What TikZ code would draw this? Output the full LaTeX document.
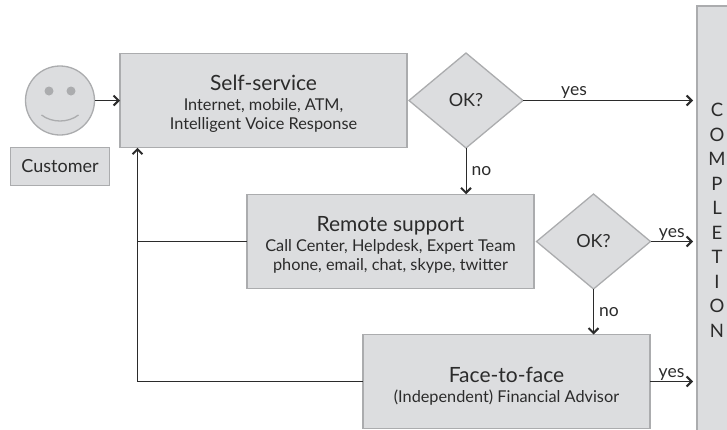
\documentclass[tikz,border=0pt]{standalone}
\usepackage{fontspec}
\setmainfont{Lato}
\usetikzlibrary{shapes.geometric,arrows.meta}
\definecolor{boxfill}{HTML}{DCDDDF}
\definecolor{boxline}{HTML}{ABACAE}
\definecolor{inkline}{HTML}{2B2B2B}
\newcommand{\headfont}{\fontsize{21}{24}\selectfont}
\newcommand{\subfont}{\fontsize{16.3}{19}\selectfont}
\newcommand{\headline}[2]{{\headfont\rule{0pt}{#1}#2}}
\tikzset{
    box/.style={shape=rectangle,draw=boxline,fill=boxfill,line width=1.3pt,align=center,inner sep=0pt,outer sep=0pt,text=inkline,font=\subfont},
    choice/.style={shape=diamond,draw=boxline,fill=boxfill,line width=1.3pt,aspect=1.2,inner sep=0pt,outer sep=0pt,minimum width=114pt,minimum height=95pt,font=\fontsize{18}{20}\selectfont,text=inkline},
    flow/.style={-{Straight Barb[length=5pt,width=10pt,line width=2pt]},line width=1pt,draw=inkline},
    answer/.style={font=\fontsize{17.5}{18}\selectfont,text=inkline,inner sep=2pt},
}
\begin{document}
\begin{tikzpicture}[x=1pt,y=-1pt]
    \useasboundingbox (0,0) rectangle (727,429);

    \node[shape=circle,draw=boxline,fill=boxfill,line width=1.3pt,outer sep=0pt,minimum size=69pt] (smiley) at (60,100.5) {};
    \node[shape=circle,fill=boxline,inner sep=0pt,minimum size=9pt] (lefteye) at (49,91) {};
    \node[shape=circle,fill=boxline,inner sep=0pt,minimum size=9pt] (righteye) at (71,91) {};
    \coordinate (smileleft) at (41.5,115);
    \coordinate (smileright) at (78.5,115);
    \draw[boxline,line width=1.3pt] (smileleft) .. controls (52,123) and (68,123) .. (smileright);
    \node[box,minimum width=99pt,minimum height=38.5pt,font=\fontsize{18}{20}\selectfont] (customer) at (60,166.5) {Customer};

    \node[box,minimum width=287pt,minimum height=94.5pt] (selfservice) at (263.5,100.5) {\headline{22pt}{Self-service}\\[1pt]Internet, mobile, ATM,\\Intelligent Voice Response};
    \node[choice] (okfirst) at (466,100.5) {OK?};
    \node[box,minimum width=287pt,minimum height=94.5pt] (remote) at (390.5,241.5) {\headline{22pt}{Remote support}\\[1pt]Call Center, Helpdesk, Expert Team\\phone, email, chat, skype, twitter};
    \node[choice] (oksecond) at (593.5,241.5) {OK?};
    \node[box,minimum width=287pt,minimum height=94pt] (facetoface) at (506.5,381.5) {\headline{25pt}{Face-to-face}\\[1pt](Independent) Financial Advisor};
    \node[box,minimum width=40pt,minimum height=429pt,font=\fontsize{18.5}{24.5}\selectfont] (completion) at (717,220.5) {C\\O\\M\\P\\L\\E\\T\\I\\O\\N};

    \coordinate (backturn) at (137.5,381.5);
    \coordinate (yesfirst) at (693,100.5);
    \coordinate (yessecond) at (693,241.5);
    \coordinate (yesthird) at (693,381.5);

    \path [flow] (smiley) edge (selfservice);
    \path [flow] (okfirst) edge node[answer,above,pos=0.3] {yes} (yesfirst);
    \path [flow] (okfirst) edge node[answer,right,xshift=3pt] {no} (okfirst |- remote.north);
    \path [flow] (oksecond) edge node[answer,above,inner sep=1pt] {yes} (yessecond);
    \path [flow] (oksecond) edge node[answer,right,xshift=3pt] {no} (oksecond |- facetoface.north);
    \path [flow] (facetoface) edge node[answer,above,inner sep=1pt] {yes} (yesthird);
    \draw [flow] (facetoface.west) -- (backturn) -- (backturn |- selfservice.south);
    \draw [line width=1pt,draw=inkline] (remote.west) -- (remote.west -| backturn);
\end{tikzpicture}
\end{document}
